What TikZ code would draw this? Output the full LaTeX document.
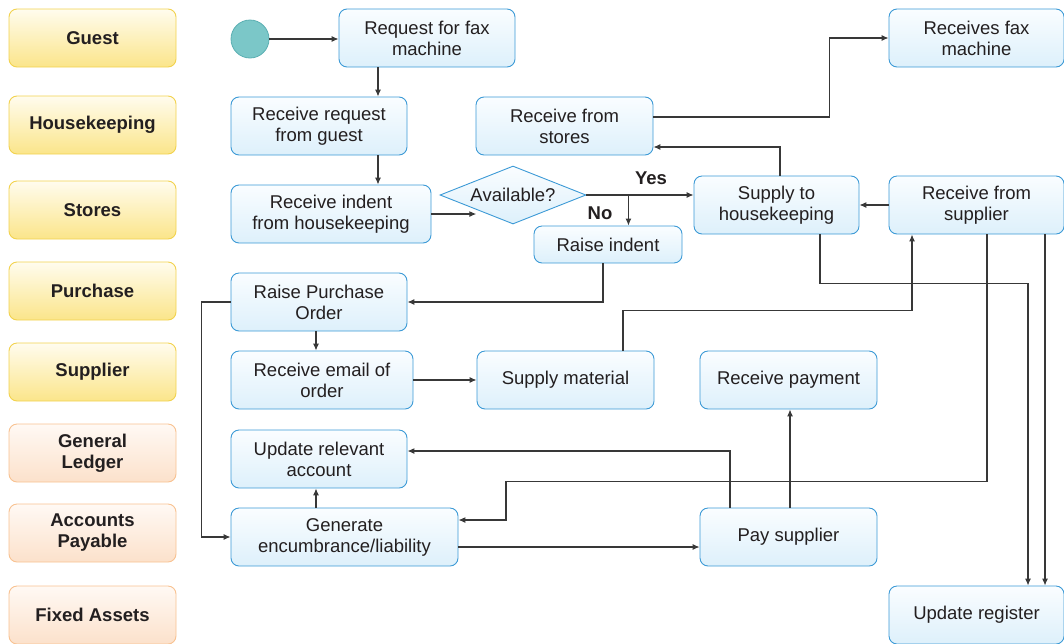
\documentclass[tikz,border=0pt]{standalone}
\usepackage{fontspec}
\setmainfont{Liberation Sans}
\usetikzlibrary{arrows.meta,shapes.geometric,calc}

\definecolor{boxline}{HTML}{3C9AD6}
\definecolor{boxtop}{HTML}{FAFDFF}
\definecolor{boxbot}{HTML}{DDF0FB}
\definecolor{yelline}{HTML}{F2D24E}
\definecolor{yeltop}{HTML}{FFFCEE}
\definecolor{yelbot}{HTML}{FBE58A}
\definecolor{orgline}{HTML}{F8C291}
\definecolor{orgtop}{HTML}{FFF9F4}
\definecolor{orgbot}{HTML}{FCE1CB}
\definecolor{startfill}{HTML}{7BC7C8}
\definecolor{startline}{HTML}{5AAFB2}
\definecolor{wire}{HTML}{383838}
\definecolor{ink}{HTML}{231F20}

\tikzset{
  txt/.style={font=\fontsize{18.5}{21}\selectfont, align=center, text=ink},
  actbox/.style={txt, draw=boxline, line width=0.9pt, rounded corners=8pt,
    top color=boxtop, bottom color=boxbot, minimum height=58pt, inner sep=2pt},
  lane/.style={font=\bfseries\fontsize{18.5}{21}\selectfont, align=center, text=ink,
    line width=0.9pt, rounded corners=8pt, minimum width=167pt, minimum height=58pt},
  ylane/.style={lane, draw=yelline, top color=yeltop, bottom color=yelbot},
  olane/.style={lane, draw=orgline, top color=orgtop, bottom color=orgbot},
  decide/.style={txt, diamond, aspect=2.5, draw=boxline, line width=0.9pt,
    top color=boxtop, bottom color=boxbot, minimum width=146pt, minimum height=58pt, inner sep=1pt},
  arr/.style={draw=wire, line width=1.1pt, -{Latex[length=7pt,width=6pt]}},
  lbl/.style={font=\bfseries\fontsize{18.5}{21}\selectfont, text=ink},
}

\begin{document}
\begin{tikzpicture}[x=1pt,y=-1pt]
\useasboundingbox (0,0) rectangle (1064,643);

% swim lane labels
\node[ylane] (lguest) at (92.5,38)  {Guest};
\node[ylane] (lhk)    at (92.5,125) {Housekeeping};
\node[ylane] (lst)    at (92.5,210) {Stores};
\node[ylane] (lpur)   at (92.5,291) {Purchase};
\node[ylane] (lsup)   at (92.5,372) {Supplier};
\node[olane] (lgl)    at (92.5,453) {General\\Ledger};
\node[olane] (lap)    at (92.5,533) {Accounts\\Payable};
\node[olane] (lfa)    at (92.5,615) {Fixed Assets};

% start
\node[circle, fill=startfill, draw=startline, line width=0.8pt, minimum size=38pt, inner sep=0] (start) at (250,39) {};

% activities
\node[actbox, minimum width=176pt] (req)    at (427,38)    {Request for fax\\machine};
\node[actbox, minimum width=176pt] (rrg)    at (319,126)   {Receive request\\from guest};
\node[actbox, minimum width=200pt] (rih)    at (331,214)   {Receive indent\\from housekeeping};
\node[decide] (avail) at (513,195) {Available?};
\node[actbox, minimum width=148pt, minimum height=37pt] (rind) at (608,244.5) {Raise indent};
\node[actbox, minimum width=165pt] (s2hk)   at (776.5,205) {Supply to\\housekeeping};
\node[actbox, minimum width=177pt] (rfs)    at (564.5,126) {Receive from\\stores};
\node[actbox, minimum width=175pt] (rfm)    at (976.5,38)  {Receives fax\\machine};
\node[actbox, minimum width=175pt] (rsup)   at (976.5,205) {Receive from\\supplier};
\node[actbox, minimum width=176pt] (rpo)    at (319,302)   {Raise Purchase\\Order};
\node[actbox, minimum width=182pt] (reo)    at (322,380)   {Receive email of\\order};
\node[actbox, minimum width=177pt] (sm)     at (565.5,380) {Supply material};
\node[actbox, minimum width=177pt] (rpay)   at (788.5,380) {Receive payment};
\node[actbox, minimum width=176pt] (ura)    at (319,459)   {Update relevant\\account};
\node[actbox, minimum width=227pt] (gen)    at (344.5,537) {Generate\\encumbrance/liability};
\node[actbox, minimum width=177pt] (pays)   at (788.5,537) {Pay supplier};
\node[actbox, minimum width=175pt] (ureg)   at (976.5,615) {Update register};

% flow
\draw[arr] (start.east) -- (req.west |- start.east);
\draw[arr] ([xshift=-49pt]req.south) -- ([xshift=59pt]rrg.north);
\draw[arr] ([xshift=59pt]rrg.south) -- ([xshift=47pt]rih.north);
\draw[arr] (rih.east) -- (rih.east -| avail.south west);
\draw[arr] (avail.east) -- (avail.east -| s2hk.west);
\coordinate (nobranch) at ($(avail.east)+(42,0)$);
\draw[arr] (nobranch) -- (nobranch |- rind.north);
\node[lbl] (yes) at (651,178) {Yes};
\node[lbl] (no)  at (600,213) {No};
\draw[arr] ([xshift=-5pt]rind.south) |- (rpo.east);
\draw[arr] ([xshift=-3pt]rpo.south) -- ([xshift=-6pt]reo.north);
\draw[arr] (reo.east) -- (reo.east -| sm.west);
\draw[arr] ([xshift=57.5pt]sm.north) -- ++(0,-40) -| ([xshift=-64.5pt]rsup.south);
\draw[arr] ([xshift=10.5pt]rsup.south) -- ++(0,247) -- ++(-481,0) |- ([yshift=17pt]gen.east);
\draw[arr] ([xshift=43.5pt]s2hk.south) -- ++(0,49) -| ([xshift=51.5pt]ureg.north);
\draw[arr] ([xshift=68.5pt]rsup.south) -- ([xshift=68.5pt]ureg.north);
\draw[arr] ([xshift=3.5pt]s2hk.north) |- ([yshift=-21pt]rfs.east);
\draw[arr] ([yshift=9pt]rfs.east) -- ++(176,0) |- (rfm.west);
\draw[arr] (rsup.west) -- (s2hk.east);
\draw[arr] (rpo.west) -- ++(-29,0) |- (gen.west);
\draw[arr] ([xshift=-28.5pt]gen.north) -- ([xshift=-3pt]ura.south);
\draw[arr] ([yshift=-10pt]gen.east) -- ($(pays.west)+(0,10)$);
\draw[arr] ([xshift=-58.5pt]pays.north) |- ([yshift=8pt]ura.east);
\draw[arr] ([xshift=1.5pt]pays.north) -- ([xshift=1.5pt]rpay.south);
\end{tikzpicture}
\end{document}
